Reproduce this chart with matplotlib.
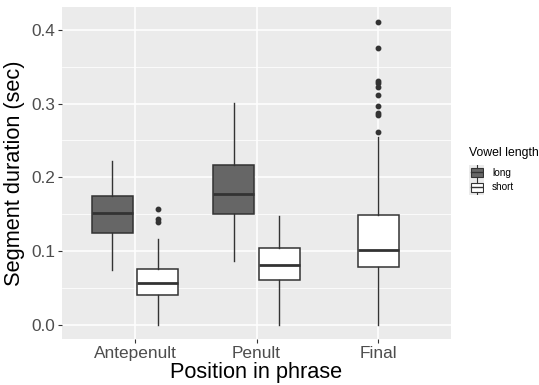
import matplotlib
matplotlib.use("Agg")
import matplotlib.pyplot as plt
from matplotlib.patches import Rectangle

plt.rcParams['font.family'] = ['Liberation Sans', 'DejaVu Sans']

positions = ["Antepenult", "Penult", "Final"]
groups = ["long", "short"]

# (category index, group) -> stats
long_cat = [0, 1]
long_whislo = [0.074, 0.086]
long_q1 = [0.125, 0.150]
long_med = [0.152, 0.177]
long_q3 = [0.174, 0.216]
long_whishi = [0.222, 0.301]
long_fliers = [[], []]

short_cat = [0, 1, 2]
short_whislo = [0.0, 0.0, 0.0]
short_q1 = [0.040, 0.060, 0.078]
short_med = [0.056, 0.081, 0.102]
short_q3 = [0.076, 0.104, 0.149]
short_whishi = [0.116, 0.1475, 0.255]
short_fliers = [[0.139, 0.143, 0.157], [],
                [0.2615, 0.284, 0.287, 0.297, 0.312, 0.322, 0.328, 0.331, 0.375, 0.411]]

fill = {"long": "#666666", "short": "#FFFFFF"}
edge = "#333333"
box_w = 0.3375
offset = 0.1875

fig = plt.figure(figsize=(5.39, 3.85), dpi=100)
ax = fig.add_axes([62/539, (385-339)/385, (451-62)/539, (339-7)/385])
ax.set_facecolor("#EBEBEB")

def draw(cats, lo, q1, med, q3, hi, fl, grp, other_cats):
    stats = []
    pos = []
    for i, c in enumerate(cats):
        stats.append(dict(whislo=lo[i], q1=q1[i], med=med[i], q3=q3[i], whishi=hi[i], fliers=fl[i]))
        if c in other_cats:
            p = c + 1 + (-offset if grp == "long" else offset)
        else:
            p = c + 1
        pos.append(p)
    ax.bxp(stats, positions=pos, widths=box_w, patch_artist=True, showcaps=False,
           boxprops=dict(facecolor=fill[grp], edgecolor=edge, linewidth=1.1),
           medianprops=dict(color=edge, linewidth=2.0),
           whiskerprops=dict(color=edge, linewidth=1.0),
           flierprops=dict(marker='o', markersize=3.2, markerfacecolor=edge, markeredgecolor=edge),
           zorder=3)

draw(long_cat, long_whislo, long_q1, long_med, long_q3, long_whishi, long_fliers, "long", short_cat)
draw(short_cat, short_whislo, short_q1, short_med, short_q3, short_whishi, short_fliers, "short", long_cat)

ax.set_xlim(0.4, 3.6)
ax.set_ylim(-0.0194, 0.431)
ax.set_xticks([1, 2, 3])
ax.set_xticklabels(positions)
ax.set_yticks([0.0, 0.1, 0.2, 0.3, 0.4])
ax.set_yticklabels(["0.0", "0.1", "0.2", "0.3", "0.4"])
ax.set_yticks([0.05, 0.15, 0.25, 0.35], minor=True)
ax.grid(True, which='major', color='white', linewidth=1.1, zorder=0)
ax.grid(True, which='minor', axis='y', color='white', linewidth=0.55, zorder=0)
ax.set_axisbelow(True)
for s in ax.spines.values():
    s.set_visible(False)
ax.tick_params(axis='both', which='major', length=3, width=0.8, color='#333333',
               labelsize=12.4, labelcolor='#4D4D4D', pad=2)
ax.tick_params(axis='y', which='minor', length=0)
ax.set_xlabel("Position in phrase", fontsize=15.7, color='black', labelpad=1)
ax.set_ylabel("Segment duration (sec)", fontsize=15.7, color='black', labelpad=4)

# Legend
fig.text(469/539, 1 - 153/385, "Vowel length", fontsize=8.8, va='center', ha='left')
key_w, key_h = 15/539, 15/385
for i, g in enumerate(groups):
    y0 = 1 - (165 + 15*i + 15)/385
    kax = fig.add_axes([469/539, y0, key_w, key_h])
    kax.set_facecolor("#EBEBEB")
    kax.set_xlim(0, 1); kax.set_ylim(0, 1)
    kax.axis('off')
    kax.add_patch(Rectangle((0, 0), 1, 1, facecolor="#EBEBEB", edgecolor='none'))
    kax.plot([0.5, 0.5], [0.0, 0.22], color=edge, lw=0.8)
    kax.plot([0.5, 0.5], [0.78, 1.0], color=edge, lw=0.8)
    kax.add_patch(Rectangle((0.1, 0.22), 0.8, 0.56, facecolor=fill[g], edgecolor=edge, lw=0.8))
    kax.plot([0.1, 0.9], [0.5, 0.5], color=edge, lw=1.0)
    fig.text(492/539, y0 + key_h/2, g, fontsize=7.2, va='center', ha='left')

fig.savefig("out.png", dpi=100)
